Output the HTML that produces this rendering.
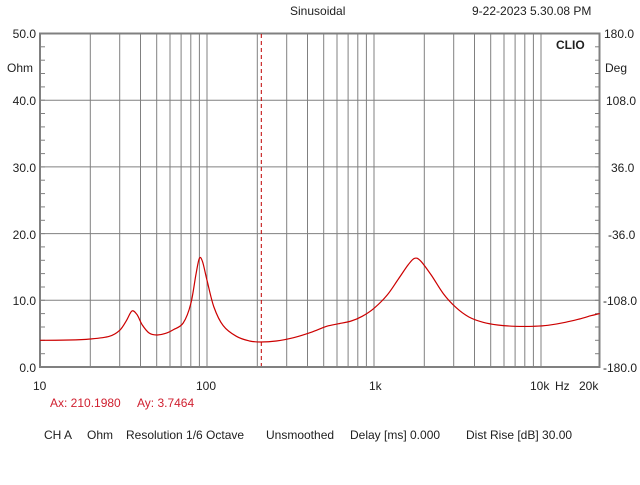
<!DOCTYPE html>
<html><head><style>
body{margin:0;background:#fff;width:640px;height:480px;overflow:hidden;font-family:"Liberation Sans",sans-serif}
svg text{font-family:"Liberation Sans",sans-serif;font-size:12px;fill:#202020}
</style></head><body>
<svg id="s" width="640" height="480" xmlns="http://www.w3.org/2000/svg">
<rect width="640" height="480" fill="#fff"/>
<g id="grid" stroke="#808080" stroke-width="1"></g>
<rect x="40" y="33.5" width="559.5" height="333.5" fill="none" stroke="#808080" stroke-width="2"/>
<line x1="261.3" y1="34" x2="261.3" y2="366" stroke="#c00000" stroke-width="1" stroke-dasharray="4,3"/>
<path id="curve" fill="none" stroke="#cc0000" stroke-width="1.2"/>
<text x="290" y="15">Sinusoidal</text>
<text x="472" y="15">9-22-2023 5.30.08 PM</text>
<text x="556" y="49" style="font-weight:bold">CLIO</text>
<g text-anchor="end">
<text x="36" y="38">50.0</text><text x="33" y="72">Ohm</text>
<text x="36" y="105">40.0</text><text x="36" y="172">30.0</text>
<text x="36" y="239">20.0</text><text x="36" y="305">10.0</text><text x="36" y="372">0.0</text>
</g>
<g>
<text x="604" y="38">180.0</text><text x="605" y="72">Deg</text>
<text x="606" y="105">108.0</text><text x="611" y="172">36.0</text>
<text x="608" y="239">-36.0</text><text x="603" y="305">-108.0</text><text x="603" y="372">-180.0</text>
</g>
<g fill="#300030">
<text x="33" y="390">10</text><text x="196" y="390">100</text><text x="369" y="390">1k</text>
<text x="530" y="390">10k</text><text x="555" y="390">Hz</text><text x="579" y="390">20k</text>
</g>
<text x="50" y="407" style="fill:#d02030">Ax: 210.1980</text>
<text x="137" y="407" style="fill:#d02030">Ay: 3.7464</text>
<text x="44" y="439">CH A</text><text x="87" y="439">Ohm</text>
<text x="126" y="439">Resolution 1/6 Octave</text><text x="266" y="439">Unsmoothed</text>
<text x="350" y="439">Delay [ms] 0.000</text><text x="466" y="439">Dist Rise [dB] 30.00</text>
</svg>
<script>
var K=167,X0=40,B=367,H=66.7;
function fx(f){return X0+K*Math.log10(f/10);}
function fy(v){return B-v*H/10;}
var g=document.getElementById('grid'),h='';
[10,100,1000].forEach(function(d){for(var m=2;m<=9;m++){var x=fx(d*m).toFixed(1);h+='<line x1="'+x+'" y1="34" x2="'+x+'" y2="367"/>';}});
[100,1000,10000].forEach(function(f){var x=fx(f).toFixed(1);h+='<line x1="'+x+'" y1="34" x2="'+x+'" y2="367"/>';});
for(var v=10;v<50;v+=10){var y=fy(v).toFixed(1);h+='<line x1="40" y1="'+y+'" x2="600" y2="'+y+'"/>';}
for(var v=2;v<50;v+=2){var y=fy(v).toFixed(1);h+='<line x1="40" y1="'+y+'" x2="45" y2="'+y+'"/><line x1="595" y1="'+y+'" x2="600" y2="'+y+'"/>';}
g.innerHTML=h;
var P=[[10,4.0],[15,4.05],[20,4.2],[26,4.6],[30,5.5],[33,7.0],[35.5,8.4],[38,7.9],[41,6.3],[45,5.1],[50,4.8],[56,5.0],[63,5.6],[72,6.6],[80,9.5],[86,14],[90,16.3],[94,15.8],[100,13],[110,9],[125,6.2],[150,4.6],[180,3.9],[210,3.75],[260,3.9],[330,4.4],[420,5.2],[520,6.1],[620,6.5],[730,6.9],[850,7.6],[1000,8.8],[1200,10.8],[1400,13.2],[1600,15.3],[1750,16.3],[1900,15.9],[2200,13.8],[2600,11],[3100,8.9],[3700,7.5],[4500,6.7],[5500,6.3],[7000,6.1],[9000,6.1],[11000,6.25],[14000,6.7],[17000,7.2],[20000,7.7],[22500,8.0]];
var pts=P.map(function(p){return [fx(p[0]),fy(p[1])];});
var d='M'+pts[0][0].toFixed(1)+','+pts[0][1].toFixed(1);
for(var i=0;i<pts.length-1;i++){var p0=pts[Math.max(i-1,0)],p1=pts[i],p2=pts[i+1],p3=pts[Math.min(i+2,pts.length-1)];
d+=' C'+(p1[0]+(p2[0]-p0[0])/6).toFixed(1)+','+(p1[1]+(p2[1]-p0[1])/6).toFixed(1)+' '+(p2[0]-(p3[0]-p1[0])/6).toFixed(1)+','+(p2[1]-(p3[1]-p1[1])/6).toFixed(1)+' '+p2[0].toFixed(1)+','+p2[1].toFixed(1);}
document.getElementById('curve').setAttribute('d',d);
</script>
</body></html>
